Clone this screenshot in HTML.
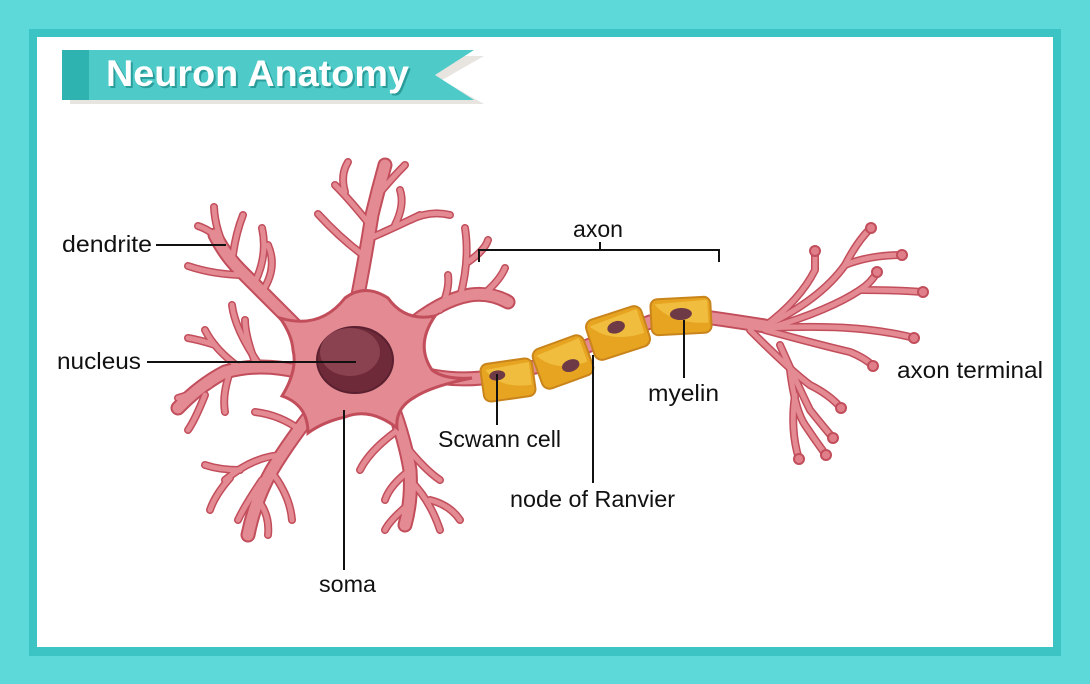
<!DOCTYPE html>
<html><head><meta charset="utf-8"><style>
html,body{margin:0;padding:0;background:#5dd9d9;}
svg{display:block;}
text{font-family:"Liberation Sans",sans-serif;}
</style></head><body>
<svg width="1090" height="684" viewBox="0 0 1090 684" xmlns="http://www.w3.org/2000/svg">
<rect x="0" y="0" width="1090" height="684" fill="#5dd9d9"/>
<rect x="29" y="29" width="1032" height="627" fill="#3cc4c4"/>
<rect x="37" y="37" width="1016" height="610" fill="#ffffff"/>

<!-- title banner -->
<polygon points="70,56 484,56 442,80 484,104 70,104" fill="#e8e4e0"/>
<polygon points="62,50 474,50 435,75 474,100 62,100" fill="#4ecbc8"/>
<rect x="62" y="50" width="27" height="50" fill="#2fb3b1"/>
<text x="108" y="88" font-size="37" font-weight="bold" fill="#2a9d9b" textLength="303" lengthAdjust="spacingAndGlyphs">Neuron Anatomy</text>
<text x="106" y="86" font-size="37" font-weight="bold" fill="#ffffff" textLength="303" lengthAdjust="spacingAndGlyphs">Neuron Anatomy</text>

<defs>
<g id="trunks">
<path d="M300 330 Q270 300 240 270 Q225 255 215 235"/>
<path d="M355 310 Q365 260 372 215 Q378 190 385 165"/>
<path d="M405 330 Q440 300 470 295 Q490 292 508 302"/>
<path d="M300 372 Q260 362 225 372 Q200 385 178 408"/>
<path d="M318 405 Q290 440 272 470 Q255 500 248 535"/>
<path d="M392 405 Q405 440 410 470 Q412 500 405 525"/>
<path d="M405 368 Q440 382 482 378 L540 366 L590 345 L650 322 L712 318 Q740 322 765 326"/>
</g>
<g id="branches">
<path d="M245 275 Q215 275 188 266"/>
<path d="M228 255 Q215 230 214 207"/>
<path d="M255 282 Q268 255 262 228"/>
<path d="M262 292 Q278 268 268 245"/>
<path d="M232 262 Q235 235 243 215"/>
<path d="M215 235 Q205 228 198 226"/>
<path d="M370 225 Q350 200 335 185"/>
<path d="M345 192 Q340 175 348 162"/>
<path d="M378 195 Q392 178 405 165"/>
<path d="M363 255 Q340 238 318 214"/>
<path d="M366 240 Q400 225 420 215"/>
<path d="M395 225 Q405 205 400 190"/>
<path d="M410 220 Q430 210 450 215"/>
<path d="M460 297 Q470 260 465 228"/>
<path d="M468 262 Q485 250 488 240"/>
<path d="M485 293 Q500 280 505 268"/>
<path d="M440 310 Q450 290 448 275"/>
<path d="M240 368 Q215 350 205 330"/>
<path d="M215 345 Q200 340 188 338"/>
<path d="M210 385 Q190 395 178 398"/>
<path d="M230 372 Q222 395 225 412"/>
<path d="M255 362 Q245 335 245 320"/>
<path d="M205 395 Q195 420 188 430"/>
<path d="M260 366 Q235 330 232 305"/>
<path d="M285 455 Q255 455 225 480"/>
<path d="M240 470 Q220 470 205 465"/>
<path d="M262 480 Q245 505 238 520"/>
<path d="M270 470 Q290 495 292 520"/>
<path d="M300 430 Q280 415 255 412"/>
<path d="M258 500 Q270 515 268 535"/>
<path d="M230 478 Q215 495 210 510"/>
<path d="M405 445 Q425 470 440 480"/>
<path d="M410 480 Q430 500 440 530"/>
<path d="M410 470 Q390 485 385 500"/>
<path d="M398 430 Q370 450 360 470"/>
<path d="M408 505 Q390 520 385 530"/>
<path d="M430 500 Q450 505 460 520"/>
<path d="M765 326 Q800 300 815 270 L815 252"/>
<path d="M765 326 Q820 300 845 265 Q858 240 871 228"/>
<path d="M845 265 Q870 255 902 255"/>
<path d="M770 328 Q830 310 860 290 Q872 282 877 272"/>
<path d="M860 290 Q895 290 923 292"/>
<path d="M765 328 Q830 325 870 330 Q895 333 914 338"/>
<path d="M765 330 Q820 345 850 352 Q865 358 873 366"/>
<path d="M750 330 Q790 370 810 385 Q830 395 841 408"/>
<path d="M780 345 Q800 390 810 410 Q822 425 833 438"/>
<path d="M790 370 Q795 410 805 425 Q815 440 826 455"/>
<path d="M795 395 Q790 430 799 459"/>
</g>
</defs>

<g fill="none" stroke-linecap="round" stroke-linejoin="round">
<use href="#trunks" stroke="#c24e5b" stroke-width="15"/>
<use href="#branches" stroke="#c24e5b" stroke-width="8"/>
<use href="#trunks" stroke="#e38a93" stroke-width="11"/>
<use href="#branches" stroke="#e38a93" stroke-width="5"/>
</g>
<g fill="#e07f8a" stroke="#c24e5b" stroke-width="2">
<circle cx="871" cy="228" r="5"/><circle cx="902" cy="255" r="5"/><circle cx="815" cy="251" r="5"/>
<circle cx="877" cy="272" r="5"/><circle cx="923" cy="292" r="5"/><circle cx="914" cy="338" r="5"/>
<circle cx="873" cy="366" r="5"/><circle cx="841" cy="408" r="5"/><circle cx="833" cy="438" r="5"/>
<circle cx="826" cy="455" r="5"/><circle cx="799" cy="459" r="5"/>
</g>

<path d="M280 318 Q320 330 345 298 Q365 283 388 298 Q405 322 435 316 Q415 345 432 370 Q445 380 472 378 Q432 386 415 397 Q395 408 397 428 Q370 407 345 417 Q323 422 308 433 Q308 405 282 396 Q298 370 293 350 Q292 335 280 318 Z" fill="#e38a93" stroke="#c24e5b" stroke-width="3"/>
<ellipse cx="355" cy="360" rx="38" ry="33" fill="#6e2a38" stroke="#5a2030" stroke-width="2"/>
<ellipse cx="350" cy="352" rx="30" ry="24" fill="#8a4150"/>

<g stroke="#c9851c" stroke-width="2">
<g transform="translate(508,380) rotate(-8)"><rect x="-26" y="-19" width="52" height="38" rx="7" fill="#e7a421"/><path d="M-21 -13 Q-10 8 23 8 L23 -15 Z" fill="#f1bd3e" stroke="none"/><ellipse cx="-10" cy="-6" rx="8" ry="5" fill="#6d3a45" stroke="none"/></g>
<g transform="translate(563,362) rotate(-20)"><rect x="-27" y="-21" width="54" height="42" rx="8" fill="#e7a421"/><path d="M-23 -15 Q-10 8 23 8 L23 -17 Z" fill="#f1bd3e" stroke="none"/><ellipse cx="6" cy="6" rx="9" ry="6" fill="#6d3a45" stroke="none"/></g>
<g transform="translate(618,333) rotate(-18)"><rect x="-29" y="-21" width="58" height="42" rx="8" fill="#e7a421"/><path d="M-25 -15 Q-10 8 25 8 L25 -17 Z" fill="#f1bd3e" stroke="none"/><ellipse cx="0" cy="-6" rx="9" ry="6" fill="#6d3a45" stroke="none"/></g>
<g transform="translate(681,316) rotate(-3)"><rect x="-30" y="-18" width="60" height="36" rx="7" fill="#e7a421"/><path d="M-26 -13 Q-10 8 27 8 L27 -15 Z" fill="#f1bd3e" stroke="none"/><ellipse cx="0" cy="-2" rx="11" ry="6" fill="#6d3a45" stroke="none"/></g>
</g>

<g stroke="#111" stroke-width="2" fill="none">
<line x1="156" y1="245" x2="226" y2="245"/>
<line x1="147" y1="362" x2="356" y2="362"/>
<line x1="344" y1="410" x2="344" y2="570"/>
<path d="M479 262 V250 H719 V262 M600 250 V242"/>
<line x1="497" y1="374" x2="497" y2="425"/>
<line x1="593" y1="355" x2="593" y2="483"/>
<line x1="684" y1="320" x2="684" y2="378"/>
</g>

<g font-size="23" fill="#111">
<text x="62" y="252" textLength="90" lengthAdjust="spacingAndGlyphs">dendrite</text>
<text x="57" y="369" textLength="84" lengthAdjust="spacingAndGlyphs">nucleus</text>
<text x="319" y="592" textLength="57" lengthAdjust="spacingAndGlyphs">soma</text>
<text x="573" y="237" textLength="50" lengthAdjust="spacingAndGlyphs">axon</text>
<text x="438" y="447" textLength="123" lengthAdjust="spacingAndGlyphs">Scwann cell</text>
<text x="510" y="507" textLength="165" lengthAdjust="spacingAndGlyphs">node of Ranvier</text>
<text x="648" y="401" textLength="71" lengthAdjust="spacingAndGlyphs">myelin</text>
<text x="897" y="378" textLength="146" lengthAdjust="spacingAndGlyphs">axon terminal</text>
</g>
</svg>
</body></html>
